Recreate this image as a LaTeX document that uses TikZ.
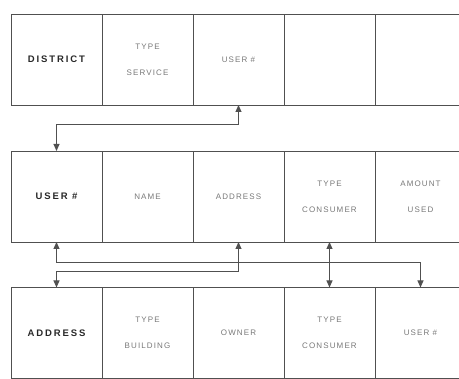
\documentclass[tikz,border=0pt]{standalone}
\usepackage{fontspec}
\setmainfont{Liberation Sans}
\usetikzlibrary{arrows.meta,positioning}
\definecolor{rulegray}{RGB}{80,80,80}
\definecolor{keygray}{RGB}{40,40,40}
\definecolor{softgray}{RGB}{120,120,120}

\begin{document}
\begin{tikzpicture}[x=1pt,y=1pt]
  \tikzstyle{cell}=[draw=rulegray,line width=0.9pt,minimum width=91pt,minimum height=91pt,
    inner sep=0pt,outer sep=0pt,align=center,text=softgray,
    font=\fontsize{8}{26}\selectfont\addfontfeatures{LetterSpace=14}]
  \tikzstyle{keycell}=[cell,text=keygray,
    font=\fontsize{9.5}{26}\selectfont\bfseries\addfontfeatures{LetterSpace=20}]
  \tikzstyle{link}=[{Triangle[length=7pt,width=6pt]}-{Triangle[length=7pt,width=6pt]},
    rulegray,line width=0.9pt]

  \clip (0,0) rectangle (459,379);

  % -- District row --
  \node[keycell] (d1) at (56.5,319.5) {DISTRICT};
  \node[cell,right=0pt of d1] (d2) {TYPE\\SERVICE};
  \node[cell,right=0pt of d2] (d3) {USER \#};
  \node[cell,right=0pt of d3] (d4) {};
  \node[cell,right=0pt of d4] (d5) {};

  % -- User row --
  \node[keycell] (u1) at (56.5,182.5) {USER \#};
  \node[cell,right=0pt of u1] (u2) {NAME};
  \node[cell,right=0pt of u2] (u3) {ADDRESS};
  \node[cell,right=0pt of u3] (u4) {TYPE\\CONSUMER};
  \node[cell,right=0pt of u4] (u5) {AMOUNT\\USED};

  % -- Address row --
  \node[keycell] (a1) at (56.5,46) {ADDRESS};
  \node[cell,right=0pt of a1] (a2) {TYPE\\BUILDING};
  \node[cell,right=0pt of a2] (a3) {OWNER};
  \node[cell,right=0pt of a3] (a4) {TYPE\\CONSUMER};
  \node[cell,right=0pt of a4] (a5) {USER \#};

  % -- Links --
  \draw[link] (u1.north) -- ++(0,27) -| (d3.south);
  \draw[link] (u1.south) -- ++(0,-20) -| (a5.north);
  \draw[link] (u3.south) -- ++(0,-29) -| (a1.north);
  \draw[link] (u4.south) -- (a4.north);
\end{tikzpicture}
\end{document}
